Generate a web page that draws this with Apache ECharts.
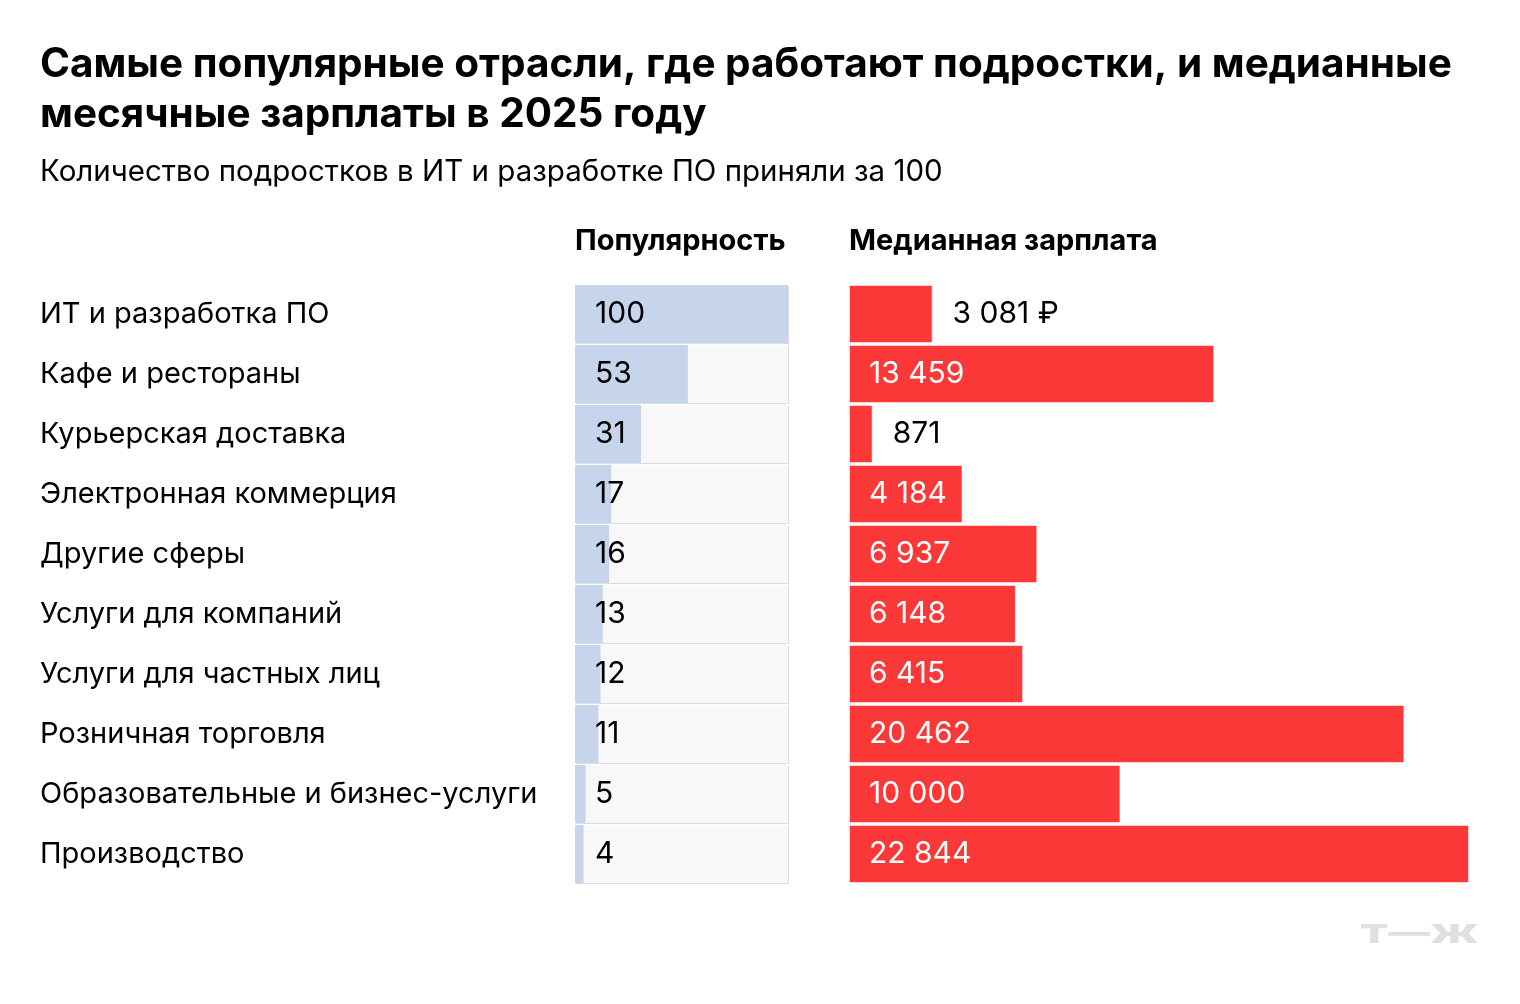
<!DOCTYPE html>
<html>
<head>
<meta charset="utf-8">
<script src="https://cdn.jsdelivr.net/npm/echarts@6/dist/echarts.min.js"></script>
<style>
  html, body { margin: 0; padding: 0; background: #fff; }
  #chart-container { width: 1520px; height: 1004px; }
</style>
</head>
<body>
<div id="chart-container"></div>
<script>
// отрасли сверху вниз
const industries = [
  'ИТ и разработка ПО',
  'Кафе и рестораны',
  'Курьерская доставка',
  'Электронная коммерция',
  'Другие сферы',
  'Услуги для компаний',
  'Услуги для частных лиц',
  'Розничная торговля',
  'Образовательные и бизнес-услуги',
  'Производство'
];
// популярность, ИТ = 100
const popularity = [100, 53, 31, 17, 16, 13, 12, 11, 5, 4];
// медианная зарплата, ₽
const salary = [3081, 13459, 871, 4184, 6937, 6148, 6415, 20462, 10000, 22844];

const FONT = 'Inter, "Noto Sans", sans-serif';

function fmt(n) {
  return String(n).replace(/\B(?=(\d{3})+(?!\d))/g, ' ');
}

var myChart = echarts.init(document.getElementById('chart-container'));

myChart.setOption({
  backgroundColor: '#ffffff',
  animation: false,
  textStyle: { fontFamily: FONT },
  title: [
    {
      text: 'Самые популярные отрасли, где работают подростки, и медианные\nмесячные зарплаты в 2025 году',
      left: 40, top: 40, padding: 0,
      textStyle: { fontFamily: FONT, fontSize: 40.5, fontWeight: 'bold', color: '#000', lineHeight: 50 }
    },
    {
      text: 'Количество подростков в ИТ и разработке ПО приняли за 100',
      left: 40, top: 157, padding: 0,
      textStyle: { fontFamily: FONT, fontSize: 29.5, fontWeight: 'normal', color: '#000' }
    },
    {
      text: 'Популярность',
      left: 575, top: 227, padding: 0,
      textStyle: { fontFamily: FONT, fontSize: 29, fontWeight: 'bold', color: '#000' }
    },
    {
      text: 'Медианная зарплата',
      left: 849, top: 227, padding: 0,
      textStyle: { fontFamily: FONT, fontSize: 29, fontWeight: 'bold', color: '#000' }
    }
  ],
  grid: [
    { left: 575, top: 284, width: 213, height: 600 },
    { left: 849, top: 284, width: 620, height: 600 }
  ],
  xAxis: [
    { type: 'value', gridIndex: 0, min: 0, max: 100, show: false },
    { type: 'value', gridIndex: 1, min: 0, max: 'dataMax', show: false }
  ],
  yAxis: [
    {
      type: 'category', gridIndex: 0, data: industries, inverse: true,
      axisLine: { show: false }, axisTick: { show: false },
      axisLabel: { align: 'left', margin: 535, fontSize: 29, color: '#000', fontFamily: FONT, padding: [4, 0, 0, 0] }
    },
    {
      type: 'category', gridIndex: 1, data: industries, inverse: true,
      axisLine: { show: false }, axisTick: { show: false }, axisLabel: { show: false }
    }
  ],
  series: [
    {
      name: 'Популярность',
      type: 'bar',
      xAxisIndex: 0, yAxisIndex: 0,
      barWidth: 58,
      data: popularity,
      itemStyle: { color: '#c6d5ec' },
      showBackground: true,
      backgroundStyle: {
        color: '#f8f8f8',
        shadowColor: '#dcdcdc', shadowOffsetX: 1, shadowOffsetY: 1, shadowBlur: 0
      },
      label: {
        show: true,
        position: [20, '50%'],
        align: 'left', verticalAlign: 'middle',
        fontSize: 30, color: '#000', fontFamily: FONT, padding: [4, 0, 0, 0]
      }
    },
    {
      name: 'Медианная зарплата',
      type: 'bar',
      xAxisIndex: 1, yAxisIndex: 1,
      barWidth: 58,
      data: salary.map(function (v, i) {
        var inside = v > 4000;
        return {
          value: v,
          label: inside
            ? { position: [20, '50%'], align: 'left', verticalAlign: 'middle', color: '#fff' }
            : { position: 'right', distance: 20, color: '#000' }
        };
      }),
      itemStyle: { color: '#fa3838', borderColor: 'rgba(255,255,255,0.55)', borderWidth: 1 },
      label: {
        show: true,
        fontSize: 30, fontFamily: FONT, padding: [4, 0, 0, 0],
        formatter: function (p) {
          return fmt(p.value) + (p.dataIndex === 0 ? ' ₽' : '');
        }
      }
    }
  ],
  graphic: [
    {
      type: 'text',
      x: 1360, y: 922,
      scaleX: 1.6,
      style: {
        text: 'Т—Ж',
        fontFamily: 'Inter, sans-serif',
        fontSize: 26, fontWeight: 900,
        fill: '#e0e0e0',
        verticalAlign: 'top'
      }
    }
  ]
});
</script>
</body>
</html>
